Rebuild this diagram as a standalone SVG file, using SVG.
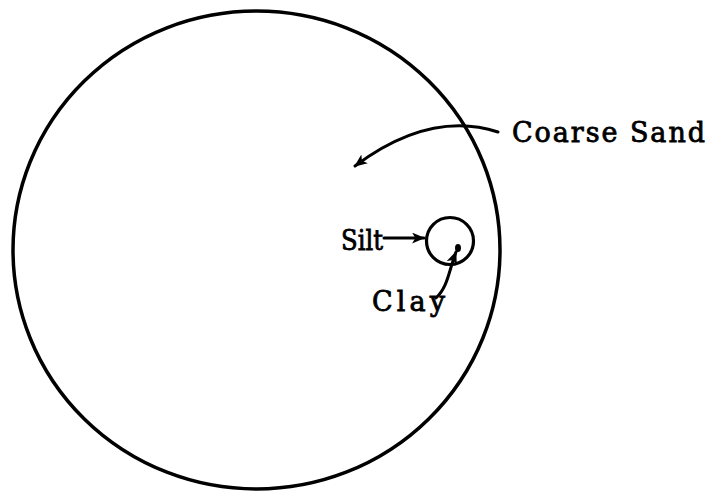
<svg xmlns="http://www.w3.org/2000/svg" width="711" height="494" viewBox="0 0 711 494">
<style>
.ln{fill:none;stroke:#000;stroke-linecap:round;stroke-linejoin:round}
.lbl{font-family:"DejaVu Serif","Liberation Serif",serif;font-size:27px;fill:#000;stroke:#000;stroke-width:0.8}
</style>
<defs>
<marker id="ah" viewBox="0 0 12 10" refX="11" refY="5" markerWidth="13" markerHeight="11" markerUnits="userSpaceOnUse" orient="auto">
<path d="M0,0 L12,5 L0,10 L3,5 z" fill="#000"/>
</marker>
</defs>
<rect width="711" height="494" fill="#fff"/>
<g id="coarse-sand">
<ellipse cx="256.5" cy="250" rx="243.5" ry="239" class="ln" stroke-width="3.5"/>
<text class="lbl" x="512" y="142" textLength="193" lengthAdjust="spacing">Coarse Sand</text>
</g>
<g id="silt">
<circle cx="450" cy="241" r="23.5" class="ln" stroke-width="3.2"/>
<text class="lbl" x="341" y="250" textLength="42" lengthAdjust="spacingAndGlyphs">Silt</text>
</g>
<g id="clay">
<ellipse cx="458" cy="248" rx="3" ry="4" fill="#000"/>
<text class="lbl" x="372" y="311" textLength="73" lengthAdjust="spacing">Clay</text>
</g>
<g id="connectors">
<path class="ln" stroke-width="3" d="M498 132 Q430 110 355 166" marker-end="url(#ah)"/>
<path class="ln" stroke-width="3" d="M384 238 L424 238" marker-end="url(#ah)"/>
<path class="ln" stroke-width="3" d="M436 298 C448 287 449 270 456 252" marker-end="url(#ah)"/>
</g>
</svg>
